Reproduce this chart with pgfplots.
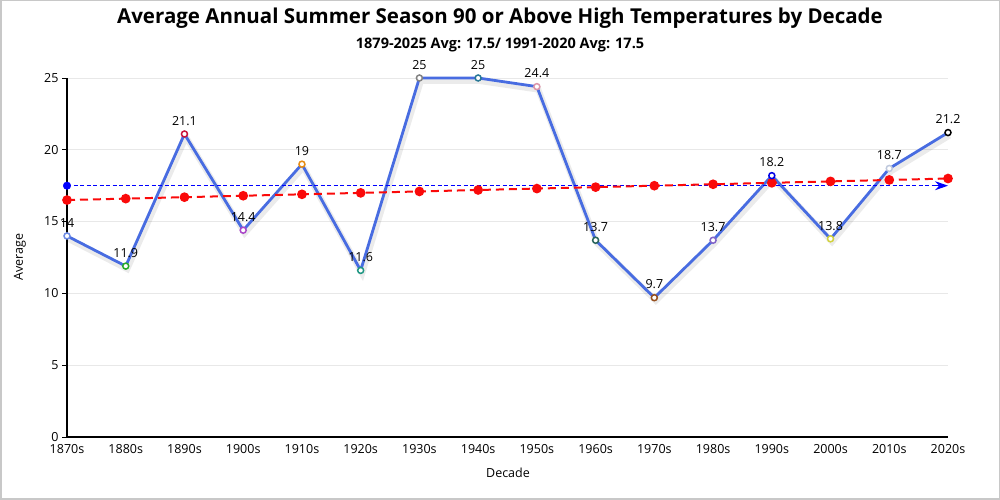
\documentclass[border=0pt]{standalone}
\usepackage{fontspec}
\setmainfont{Open Sans}
\usepackage{pgfplots}
\usepackage{pgfplotstable}
\pgfplotsset{compat=1.18}
\usetikzlibrary{arrows.meta}

\definecolor{dataline}{RGB}{72,108,225}
\definecolor{gridgray}{RGB}{232,232,232}
\definecolor{framegray}{RGB}{200,200,200}
\definecolor{trendred}{RGB}{250,10,10}
\definecolor{m0}{RGB}{110,140,230}
\definecolor{m1}{RGB}{40,170,40}
\definecolor{m2}{RGB}{200,20,60}
\definecolor{m3}{RGB}{170,70,200}
\definecolor{m4}{RGB}{230,140,20}
\definecolor{m5}{RGB}{30,150,130}
\definecolor{m6}{RGB}{130,130,130}
\definecolor{m7}{RGB}{40,120,150}
\definecolor{m8}{RGB}{220,150,170}
\definecolor{m9}{RGB}{40,100,90}
\definecolor{m10}{RGB}{150,80,30}
\definecolor{m11}{RGB}{130,100,200}
\definecolor{m12}{RGB}{0,0,230}
\definecolor{m13}{RGB}{210,210,60}
\definecolor{m14}{RGB}{190,200,220}
\definecolor{m15}{RGB}{0,0,0}

% decade index, average, marker class
\pgfplotstableread{
x y c
0 14 c0
1 11.9 c1
2 21.1 c2
3 14.4 c3
4 19 c4
5 11.6 c5
6 25 c6
7 25 c7
8 24.4 c8
9 13.7 c9
10 9.7 c10
11 13.7 c11
12 18.2 c12
13 13.8 c13
14 18.7 c14
15 21.2 c15
}\avgdata

\pgfplotstableread{
x y
0 16.5
1 16.6
2 16.7
3 16.8
4 16.9
5 17.0
6 17.1
7 17.2
8 17.3
9 17.4
10 17.5
11 17.6
12 17.7
13 17.8
14 17.9
15 18.0
}\trenddata

\begin{document}
\begin{tikzpicture}
\useasboundingbox (0,0) rectangle (1000pt,500pt);
\draw[framegray, line width=1.5pt] (0.75pt,0.75pt) rectangle (999.25pt,499.25pt);

\begin{axis}[
  at={(67pt,63pt)}, anchor=south west,
  scale only axis, width=881pt, height=359pt,
  xmin=0, xmax=15, ymin=0, ymax=25,
  clip=false,
  axis lines*=left,
  axis line style={black, line width=1.2pt},
  xtick={0,...,15},
  xticklabels={1870s,1880s,1890s,1900s,1910s,1920s,1930s,1940s,1950s,1960s,1970s,1980s,1990s,2000s,2010s,2020s},
  ytick={0,5,...,25},
  xtick style={draw=none},
  ytick style={black, line width=0.8pt},
  tick align=outside, major tick length=5pt,
  ymajorgrids, grid style={gridgray, line width=0.8pt},
  ticklabel style={font=\fontsize{12.5}{14}\selectfont},
  /pgf/number format/assume math mode=true,
  xticklabel style={yshift=1pt},
]
% soft shadow of the data line
\addplot[black, opacity=0.08, line width=6pt, shift={(1.5pt,-3pt)}, mark=none] table[x=x, y=y] {\avgdata};
\addplot[dataline, line width=2.8pt, mark=none] table[x=x, y=y] {\avgdata};

% average line (17.5)
\addplot[blue, line width=1pt, dash pattern=on 4pt off 2.5pt, mark=none]
  coordinates {(0,17.5) (14.8,17.5)};
\addplot[blue, line width=1pt, mark=none, -{Stealth[length=13pt, width=9pt]}]
  coordinates {(14.8,17.5) (15,17.5)};
\addplot[only marks, mark=*, blue, mark size=3.8pt] coordinates {(0,17.5)};

% trend line
\addplot[trendred, line width=2pt, dash pattern=on 8pt off 5pt,
  mark=*, mark size=3.8pt, mark options={solid}] table[x=x, y=y] {\trenddata};

% coloured markers
\addplot[scatter, only marks, scatter src=explicit symbolic,
  mark size=3pt, line width=1.5pt,
  scatter/classes={
    c0={mark=*, draw=m0, fill=white},
    c1={mark=*, draw=m1, fill=white},
    c2={mark=*, draw=m2, fill=white},
    c3={mark=*, draw=m3, fill=white},
    c4={mark=*, draw=m4, fill=white},
    c5={mark=*, draw=m5, fill=white},
    c6={mark=*, draw=m6, fill=white},
    c7={mark=*, draw=m7, fill=white},
    c8={mark=*, draw=m8, fill=white},
    c9={mark=*, draw=m9, fill=white},
    c10={mark=*, draw=m10, fill=white},
    c11={mark=*, draw=m11, fill=white},
    c12={mark=*, draw=m12, fill=white},
    c13={mark=*, draw=m13, fill=white},
    c14={mark=*, draw=m14, fill=white},
    c15={mark=*, draw=m15, fill=white}}]
  table[x=x, y=y, meta=c] {\avgdata};

% value labels
\addplot[draw=none, mark=none, point meta=y,
  nodes near coords,
  nodes near coords style={font=\fontsize{12.5}{14}\selectfont, black, anchor=south, yshift=5pt}]
  table[x=x, y=y] {\avgdata};
\end{axis}

\node[font=\fontsize{20.5}{24}\selectfont\bfseries] at (500pt,482pt) {Average Annual Summer Season 90 or Above High Temperatures by Decade};
\node[font=\fontsize{14.5}{17}\selectfont\bfseries] at (500pt,455pt) {1879-2025 Avg: 17.5/ 1991-2020 Avg: 17.5};
\node[font=\fontsize{12.5}{14}\selectfont, rotate=90] at (20pt,243pt) {Average};
\node[font=\fontsize{12.5}{14}\selectfont] at (508pt,27pt) {Decade};
\end{tikzpicture}
\end{document}
